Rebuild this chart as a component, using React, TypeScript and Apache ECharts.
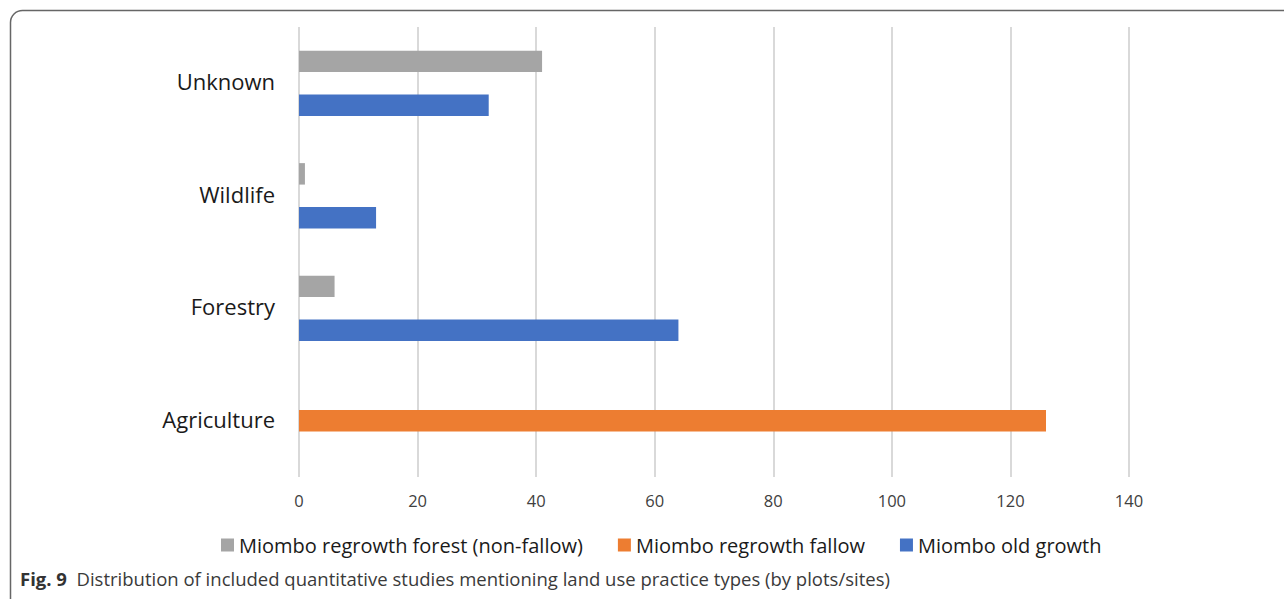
import React, { useEffect, useRef } from "react";
import * as echarts from "echarts";

const categories = ["Agriculture", "Forestry", "Wildlife", "Unknown"];
const seriesNames = [
  "Miombo regrowth forest (non-fallow)",
  "Miombo regrowth fallow",
  "Miombo old growth",
];
const regrowthForest = [0, 6, 1, 41];
const regrowthFallow = [126, 0, 0, 0];
const oldGrowth = [0, 64, 13, 32];
const xTicks = { min: 0, max: 140, interval: 20 };
const colors = ["#a5a5a5", "#ed7d31", "#4472c4"];
const captionBold = "Fig. 9";
const captionText =
  "Distribution of included quantitative studies mentioning land use practice types (by plots/sites)";

export default function App() {
  const ref = useRef<HTMLDivElement>(null);
  useEffect(() => {
    if (!ref.current) return;
    const chart = echarts.init(ref.current, null, { renderer: "svg" });
    const font = "'Open Sans', 'Noto Sans', sans-serif";
    const values = [regrowthForest, regrowthFallow, oldGrowth];
    chart.setOption({
      animation: false,
      textStyle: { fontFamily: font },
      grid: { left: 299, right: 155, top: 27, bottom: 122, containLabel: false },
      xAxis: {
        type: "value",
        min: xTicks.min,
        max: xTicks.max,
        interval: xTicks.interval,
        axisLine: { show: false },
        axisTick: { show: false },
        axisLabel: { fontSize: 16.5, color: "#404040", margin: 15, fontFamily: font },
        splitLine: { show: true, lineStyle: { color: "#d9d9d9", width: 2 } },
      },
      yAxis: {
        type: "category",
        data: categories,
        axisLine: { show: false },
        axisTick: { show: false },
        axisLabel: {
          margin: 24,
          formatter: "{a|{value}}",
          rich: {
            a: {
              fontSize: 22,
              color: "#1a1a1a",
              fontFamily: font,
              padding: [0, 0, 4, 0],
            },
          },
        },
      },
      legend: {
        data: seriesNames,
        bottom: 39,
        left: 216,
        itemWidth: 13,
        itemHeight: 13,
        itemGap: 35,
        icon: "rect",
        textStyle: { fontSize: 20, color: "#1a1a1a", fontFamily: font },
      },
      series: [0, 1, 2].map((i) => ({
        name: seriesNames[i],
        type: "bar",
        data: values[i],
        itemStyle: { color: colors[i] },
        barGap: "2%",
        barCategoryGap: "42%",
      })),
      graphic: [
        {
          type: "rect",
          shape: { x: 10.5, y: 10.5, width: 1400, height: 800, r: 12 },
          style: { fill: "none", stroke: "#666", lineWidth: 1.5 },
          silent: true,
        },
        {
          type: "text",
          left: 20,
          top: 569,
          style: {
            text: "{b|" + captionBold + "}  " + captionText,
            font: "18.5px " + font,
            fill: "#3a3a3a",
            rich: {
              b: { fontWeight: "bold", fontSize: 18.5, fill: "#333", fontFamily: font },
            },
          },
        },
      ],
    });
    return () => chart.dispose();
  }, []);
  return (
    <div
      ref={ref}
      style={{ position: "fixed", left: 0, top: 0, width: 1284, height: 599, background: "#fff" }}
    />
  );
}
